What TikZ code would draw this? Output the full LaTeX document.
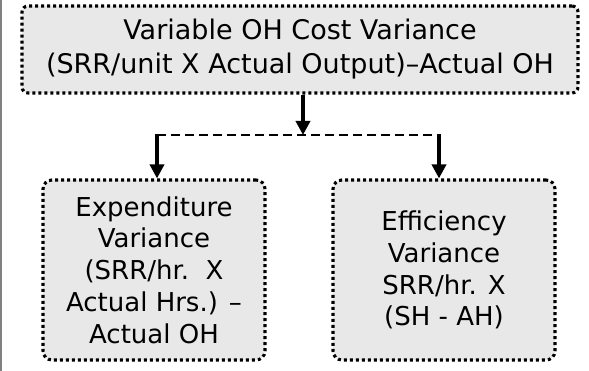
\documentclass[tikz,border=0pt]{standalone}
\usepackage{fontspec}
\setmainfont{DejaVu Sans}
\usetikzlibrary{arrows.meta}
\definecolor{boxfill}{HTML}{E8E8E8}
\definecolor{edgegray}{HTML}{808080}
\tikzset{
  vbox/.style={draw=black, fill=boxfill, line width=3.1pt, dash pattern=on 3pt off 3pt,
    rounded corners=6pt, align=center, inner sep=0pt},
  flowarrow/.style={line width=3.5pt, -{Triangle[length=14pt,width=14pt]}},
  branch/.style={line width=2pt, dash pattern=on 9pt off 5pt}
}
\begin{document}
\begin{tikzpicture}[x=1pt,y=1pt]
\useasboundingbox (0,0) rectangle (589,371);
\fill[edgegray] (0,0) rectangle (2.2,371);
\node[vbox, minimum width=556pt, minimum height=87pt,
  font=\fontsize{27pt}{34pt}\selectfont] (top) at (300,321.5)
  {Variable OH Cost Variance\\ (SRR/unit X Actual Output)–Actual OH};
\node[vbox, rounded corners=9pt, minimum width=222pt, minimum height=180pt,
  font=\fontsize{26pt}{31.7pt}\selectfont] (left) at (154,101)
  {Expenditure\\ Variance\\ (SRR/hr.\ \ X\\ Actual Hrs.) –\\ Actual OH};
\node[vbox, rounded corners=9pt, minimum width=222pt, minimum height=180pt,
  font=\fontsize{26pt}{31.7pt}\selectfont] (right) at (444,101)
  {Efficiency\\ Variance\\ SRR/hr. X\\ (SH - AH)};
\coordinate (j) at (303,236);
\coordinate (dl) at (157,236);
\coordinate (dr) at (439,236);
\draw[flowarrow] (top.south -| j) -- (j);
\draw[branch] (dl) -- (dr);
\draw[flowarrow] ([yshift=1pt]dl) -- (left.north -| dl);
\draw[flowarrow] ([yshift=1pt]dr) -- (right.north -| dr);
\end{tikzpicture}
\end{document}
